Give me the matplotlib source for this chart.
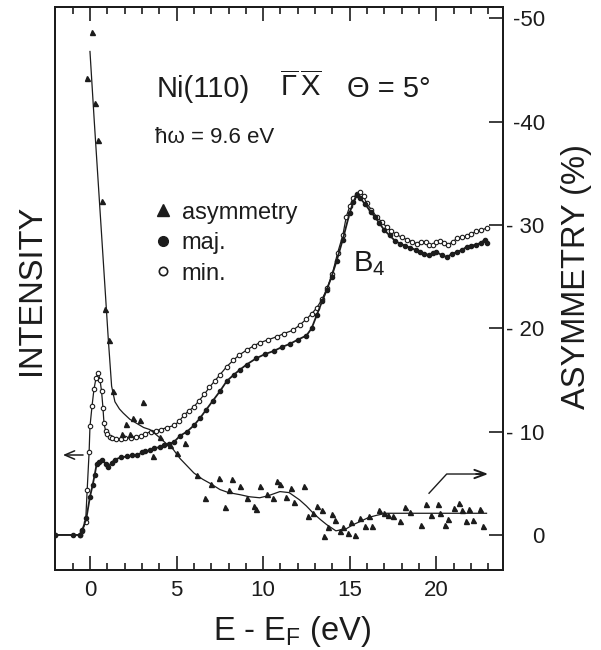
"""
Spin-resolved photoemission from Ni(110) along Gamma-X: majority / minority
intensity spectra together with the spin asymmetry, vs. energy above E_F.
"""

import matplotlib
matplotlib.use("Agg")
import matplotlib.pyplot as plt
from matplotlib.lines import Line2D
from matplotlib.ticker import MultipleLocator

plt.rcParams["font.family"] = ["Liberation Sans", "DejaVu Sans"]
plt.rcParams["mathtext.fontset"] = "custom"
plt.rcParams["mathtext.rm"] = "Liberation Sans"
plt.rcParams["mathtext.it"] = "Liberation Sans:italic"

INK = "#1c1c1c"

# ---- majority spin intensity (arb. units) ----
maj_e = [-2.0, -1.0, -0.6, -0.44, -0.21, 0.0, 0.15, 0.27, 0.39, 0.52, 0.71, 0.9,
         1.06, 1.25, 1.44, 1.77, 2.15, 2.45, 2.73, 3.0, 3.2, 3.46, 3.7, 4.04, 4.27,
         4.55, 4.85, 5.2, 5.6, 6.0, 6.35, 6.7, 7.1, 7.5, 7.9, 8.3, 8.66, 9.05, 9.6,
         10.1, 10.6, 11.1, 11.55, 12.0, 12.5, 12.8, 13.1, 13.4, 13.67, 13.95, 14.24,
         14.6, 15.0, 15.2, 15.4, 15.6, 15.9, 16.2, 16.45, 16.7, 17.0, 17.3, 17.6,
         17.9, 18.2, 18.5, 18.8, 19.05, 19.3, 19.6, 19.8, 20.0, 20.3, 20.6, 20.9,
         21.2, 21.5, 21.75, 22.0, 22.3, 22.6, 22.8, 22.95]
maj_i = [0.0, 0.0, 0.0, 0.5, 1.6, 3.7, 4.8, 5.8, 6.9, 7.1, 7.3, 6.9,
         6.6, 7.0, 7.3, 7.5, 7.6, 7.7, 7.7, 8.0, 8.1, 8.2, 8.4, 8.5, 8.7,
         8.8, 9.0, 9.6, 10.0, 10.6, 11.3, 12.1, 13.0, 13.9, 14.9, 15.5, 16.0, 16.5, 17.1,
         17.5, 17.8, 18.2, 18.5, 18.9, 19.3, 20.0, 21.3, 22.6, 23.7, 25.0, 26.5,
         28.6, 31.2, 32.2, 32.9, 32.6, 32.0, 31.3, 30.8, 30.2, 29.5, 29.0, 28.5,
         28.2, 28.0, 27.8, 27.6, 27.4, 27.2, 27.1, 27.3, 27.4, 27.1, 26.9, 27.2,
         27.4, 27.6, 27.9, 28.0, 28.1, 28.3, 28.6, 28.3]

# ---- minority spin intensity (arb. units) ----
min_e = [-2.0, -0.6, -0.44, -0.25, -0.16, -0.05, 0.0, 0.12, 0.23, 0.35, 0.48, 0.58,
         0.67, 0.75, 0.81, 0.9, 1.0, 1.15, 1.29, 1.5, 1.77, 2.05, 2.35, 2.65, 2.93,
         3.2, 3.5, 3.8, 4.08, 4.45, 4.85, 5.15, 5.43, 5.7, 6.0, 6.3, 6.6, 6.9, 7.2,
         7.5, 7.9, 8.27, 8.6, 9.05, 9.45, 9.8, 10.3, 10.8, 11.2, 11.7, 12.1, 12.5,
         12.8, 13.1, 13.4, 13.7, 14.0, 14.3, 14.6, 14.8, 15.0, 15.2, 15.4, 15.6,
         15.8, 15.97, 16.25, 16.55, 16.85, 17.13, 17.4, 17.7, 18.0, 18.3, 18.6,
         18.86, 19.1, 19.4, 19.6, 19.8, 20.0, 20.2, 20.45, 20.7, 20.95, 21.2, 21.5,
         21.75, 22.0, 22.3, 22.6, 22.9]
min_i = [0.0, 0.0, 0.4, 1.3, 4.4, 8.0, 10.5, 12.5, 14.1, 15.2, 15.7, 15.0,
         13.9, 12.3, 10.8, 10.1, 9.8, 9.5, 9.4, 9.3, 9.3, 9.35, 9.4, 9.5, 9.6,
         9.8, 10.0, 10.1, 10.2, 10.4, 10.6, 11.0, 11.6, 12.0, 12.4, 13.0, 13.6, 14.3, 14.9,
         15.5, 16.3, 16.9, 17.4, 17.9, 18.3, 18.6, 18.9, 19.2, 19.5, 19.8, 20.3, 20.9,
         21.4, 22.0, 22.8, 23.9, 25.3, 27.3, 29.0, 30.8, 31.8, 32.6, 33.0, 33.2,
         32.8, 32.1, 31.5, 30.8, 30.3, 29.8, 29.4, 29.1, 28.8, 28.6, 28.4,
         28.2, 28.4, 28.4, 28.1, 28.1, 28.4, 28.5, 28.3, 28.1, 28.4, 28.7, 28.8,
         28.9, 29.1, 29.4, 29.5, 29.7]

# ---- measured spin asymmetry (%) ----
asym_e = [-0.15, 0.1, 0.29, 0.48, 0.71, 0.87, 1.1, 1.35, 1.83, 2.08, 2.3, 2.5, 2.9,
          3.08, 3.65, 4.04, 4.6, 5.0, 5.5, 6.2, 6.64, 7.0, 7.47, 7.8, 8.04, 8.2,
          8.66, 9.05, 9.47, 9.58, 9.8, 10.2, 10.55, 10.8, 10.97, 11.3, 11.6, 11.8,
          12.36, 12.6, 12.9, 13.1, 13.4, 13.5, 13.76, 13.95, 14.15, 14.43, 14.6,
          14.9, 15.1, 15.3, 15.6, 15.9, 16.1, 16.3, 16.7, 17.0, 17.2, 17.5, 17.9,
          18.2, 18.5, 19.1, 19.4, 19.7, 20.1, 20.2, 20.5, 20.7, 21.0, 21.3, 21.5,
          21.7, 21.9, 22.1, 22.5, 22.7]
asym_v = [44.2, 48.7, 41.8, 38.2, 32.3, 21.9, 18.9, 13.9, 9.8, 10.7, 9.8, 11.3, 11.1,
          12.9, 7.6, 9.5, 8.7, 7.9, 8.9, 5.8, 3.55, 4.9, 5.5, 2.7, 4.4, 5.4,
          4.7, 3.55, 2.8, 2.5, 4.7, 4.0, 3.6, 5.2, 4.9, 3.7, 4.5, 3.2,
          4.7, 1.8, 2.1, 2.8, 2.4, -0.1, 0.8, 2.0, 1.45, 0.4, 0.8,
          0.2, 1.3, 0.0, 1.6, 0.9, 1.8, 0.9, 2.4, 2.1, 1.9, 1.8, 1.4,
          2.7, 2.2, 1.0, 3.0, 1.9, 3.0, 2.1, 1.0, 1.55, 2.6, 3.1, 2.4,
          1.4, 2.5, 1.45, 2.5, 0.9]

# ---- smoothed asymmetry curve (%) ----
fit_e = [0.0, 0.25, 0.5, 0.75, 0.9, 1.06, 1.25, 1.44, 1.7, 1.92, 2.3, 2.7, 3.1, 3.46,
         3.9, 4.37, 4.8, 5.2, 5.6, 6.0, 6.5, 6.93, 7.5, 8.0, 8.66, 9.2, 9.8, 10.3,
         10.97, 11.5, 12.1, 12.5, 12.9, 13.3, 13.67, 14.2, 14.8, 15.2, 15.6, 16.1,
         16.55, 17.1, 18.0, 19.0, 20.0, 21.0, 22.0, 22.9]
fit_v = [46.8, 40.0, 33.5, 27.0, 23.1, 18.9, 14.4, 12.9, 12.2, 11.8, 11.2, 10.8, 10.4, 10.2,
         9.6, 8.9, 8.3, 7.4, 6.7, 6.0, 5.4, 5.0, 4.4, 4.1, 3.9, 3.7, 3.6, 3.8,
         4.2, 4.1, 3.4, 2.8, 2.1, 1.5, 1.0, 0.4, 0.6, 1.0, 1.3, 1.7,
         1.9, 2.1, 2.1, 2.1, 2.1, 2.1, 2.1, 2.1]

asym_ticks = [0, 10, 20, 30, 40, 50]
asym_tick_labels = ["0", "- 10", "- 20", "- 30", "-40", "-50"]
energy_ticks = [0, 5, 10, 15, 20]

fig = plt.figure(figsize=(6.01, 6.5), dpi=100)
ax = fig.add_axes([0.0915, 0.1231, 0.7454, 0.8662])
axr = ax.twinx()

ylims = (-3.39, 51.11)
ax.set_xlim(-2.02, 23.85)
ax.set_ylim(*ylims)
axr.set_ylim(*ylims)

# intensity spectra
ax.plot(min_e, min_i, color=INK, lw=0.9, marker="o", ms=3.2, mfc="white",
        mec=INK, mew=0.8)
ax.plot(maj_e, maj_i, color=INK, lw=1.3, marker="o", ms=3.0, mfc=INK, mec=INK)

# asymmetry: data points and smooth guide
axr.plot(fit_e, fit_v, color=INK, lw=0.9)
axr.plot(asym_e, asym_v, ls="none", marker="^", ms=3.6, color=INK)

# axis ticks
ax.set_xticks(energy_ticks)
ax.xaxis.set_minor_locator(MultipleLocator(1))
ax.tick_params(axis="x", which="both", direction="in", top=True, bottom=True,
               width=1.2, labelsize=16, pad=7, colors=INK)
ax.tick_params(axis="x", which="major", length=10)
ax.tick_params(axis="x", which="minor", length=5)
ax.tick_params(axis="y", left=False, labelleft=False)

axr.set_yticks(asym_ticks)
axr.set_yticklabels(asym_tick_labels)
axr.tick_params(axis="y", direction="in", length=10, width=1.2, labelsize=16,
                pad=30, colors=INK)
for lab in axr.get_yticklabels():
    lab.set_horizontalalignment("right")

for a in (ax, axr):
    for sp in a.spines.values():
        sp.set_linewidth(1.4)
        sp.set_color(INK)

# arrows telling which axis each curve belongs to
ax.annotate("", xy=(-1.56, 7.74), xytext=(-0.40, 7.74),
            arrowprops=dict(arrowstyle="->,head_length=0.7,head_width=0.3",
                            color=INK, lw=1.1, shrinkA=0, shrinkB=0))
axr.plot([19.58, 20.6, 22.4], [4.04, 5.9, 5.9], color=INK, lw=1.0)
axr.annotate("", xy=(23.0, 5.9), xytext=(22.3, 5.9),
             arrowprops=dict(arrowstyle="->,head_length=0.8,head_width=0.3",
                             color=INK, lw=1.4, shrinkA=0, shrinkB=0))

# labels inside the frame
tr = ax.transAxes
ax.text(0.2277, 0.8407, "Ni(110)", transform=tr, fontsize=21, va="baseline",
        color=INK)
ax.text(0.502, 0.8407, r"$\overline{\Gamma}\,\overline{\mathrm{X}}$", transform=tr,
        fontsize=21, va="baseline", color=INK)
ax.text(0.652, 0.8407, "\u0398 = 5\u00b0", transform=tr, fontsize=21,
        va="baseline", color=INK)
ax.text(0.2232, 0.758, "\u0127\u03c9 = 9.6 eV", transform=tr, fontsize=16,
        va="baseline", color=INK)
ax.text(0.665, 0.530, r"B$_4$", transform=tr, fontsize=21, va="baseline",
        color=INK)

handles = [
    Line2D([], [], ls="none", marker="^", ms=8, color=INK),
    Line2D([], [], ls="none", marker="o", ms=7, color=INK),
    Line2D([], [], ls="none", marker="o", ms=6, mfc="white", mec=INK, mew=1.2),
]
ax.legend(handles, ["asymmetry", "maj.", "min."], loc="upper left",
          bbox_to_anchor=(0.2196, 0.654), frameon=False, fontsize=17,
          handlelength=0.8, handletextpad=0.4, labelspacing=0.36,
          borderpad=0, borderaxespad=0, labelcolor=INK)

fig.text(0.0532, 0.5538, "INTENSITY", rotation=90, fontsize=23.5, ha="center",
         va="center", color=INK)
fig.text(0.960, 0.574, "ASYMMETRY (%)", rotation=90, fontsize=23.5, ha="center",
         va="center", color=INK)
fig.text(0.4867, 0.01538, r"E - E$_\mathrm{F}$ (eV)", fontsize=23.5, ha="center",
         va="baseline", color=INK)

fig.savefig("out.png", dpi=100, facecolor="white")
